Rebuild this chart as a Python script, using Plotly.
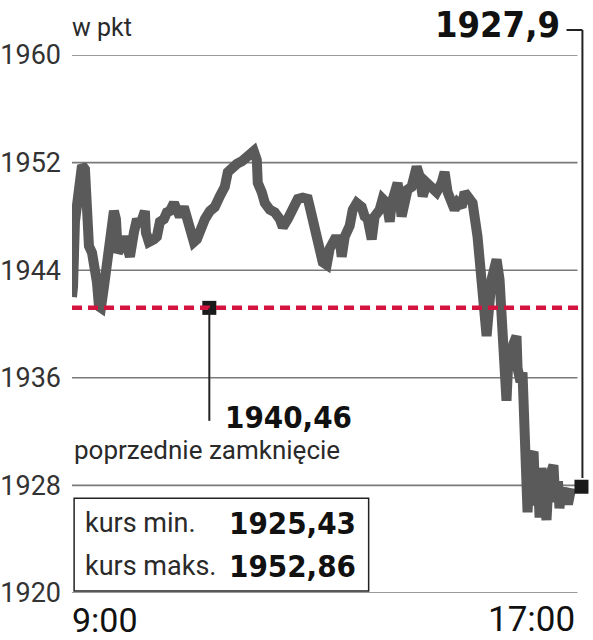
import plotly.graph_objects as go

# ---- data (minutes after 9:00, index points) ----
minutes = [0, 1, 2.8, 6.6, 9.5, 12.3, 14.2, 16.1, 19.0, 21.8, 23.7, 25.6, 27.5, 30.4, 33.2, 36.0,
           39.8, 41.7, 43.6, 47.4, 49.3, 52.2, 55.0, 58.8, 61.7, 64.5, 69.2, 70.2, 73.0, 77.8,
           80.6, 83.5, 87.3, 90.1, 93.0, 96.8, 99.6, 102.4, 106.2, 109.1, 111.9, 115.7, 118.6,
           121.4, 126.2, 130.9, 135.6, 140.4, 145.1, 148.0, 151.8, 156.5, 161.3, 166.0, 170.7,
           172.6, 175.5, 176.4, 180.2, 183.1, 187.8, 192.6, 197.3, 200.2, 204.9, 209.6, 214.4,
           219.1, 223.9, 225.8, 228.6, 232.4, 235.3, 238.1, 241.9, 244.7, 249.5,
           254.2, 256.1, 259.0, 263.7, 266.6, 270.4, 275.1, 277.9, 280.8, 284.6, 287.4, 292.2,
           295.0, 298.8, 301.7, 303.6, 306.4, 309.2, 313.0, 315.9, 318.7, 322.5, 325.4, 327.3,
           330.1, 333.0, 336.8, 341.5, 346.2, 351.0, 353.8, 356.7, 360.5, 363.3, 366.2, 370.0,
           372.8, 377.0, 380.4, 385.1, 388.9, 393.7, 398.4, 403.2, 406.0, 408.9, 410.8, 412.6,
           414.5, 418.3, 422.1, 423.1, 425.9, 427.8, 429.7, 431.6, 432.6, 434.0, 435.0, 436.4,
           438.3, 439.5, 441.1, 442.5, 444.0, 445.8, 447.7, 449.0, 450.6, 452.0, 453.4, 455.0,
           457.2, 458.5, 460.1, 461.5, 462.9, 464.5, 465.8, 467.5, 469.6, 471.0, 472.4, 474.0]
values = [1942.0, 1942.8, 1947.6, 1950.0, 1951.8, 1951.5, 1948.7, 1945.8, 1945.3, 1944.3, 1943.1,
          1941.3, 1941.2, 1942.8, 1944.3, 1946.8, 1948.4, 1947.8, 1945.3, 1945.8, 1946.5, 1945.8,
          1945.0, 1946.8, 1947.8, 1947.3, 1948.4, 1946.8, 1946.1, 1946.3, 1946.5, 1947.6, 1947.8,
          1948.3, 1948.4, 1949.0, 1948.3, 1948.0, 1948.7, 1947.8, 1947.6, 1946.1, 1946.3,
          1947.0, 1947.8, 1948.4, 1948.7, 1949.5, 1950.2, 1951.3, 1951.7, 1951.9, 1952.1, 1952.4,
          1952.7, 1952.86, 1952.2, 1950.5, 1949.8, 1949.0, 1948.5, 1948.3, 1947.8, 1947.2, 1947.8,
          1948.7, 1949.3, 1949.4, 1949.3, 1948.7, 1947.8, 1947.0, 1945.6, 1944.6, 1944.4, 1945.6,
          1946.3,
          1946.3, 1945.0, 1946.5, 1947.3, 1948.5, 1949.0, 1948.7, 1948.0, 1947.8, 1946.3, 1948.0,
          1948.5, 1949.3, 1949.0, 1947.6, 1949.0, 1949.8, 1950.5, 1948.0, 1949.3, 1950.0, 1950.2,
          1951.0, 1951.7, 1951.0, 1949.5, 1950.5, 1950.2, 1949.8, 1950.5, 1951.3, 1949.8, 1949.0,
          1948.5, 1949.0, 1948.7, 1949.8, 1949.3, 1949.0, 1946.5, 1943.1, 1939.1, 1943.3, 1944.8,
          1943.3, 1939.1, 1936.7, 1934.3, 1937.6, 1938.7, 1939.1, 1936.7, 1935.7, 1936.4, 1933.0,
          1929.3, 1926.0, 1928.5, 1926.5, 1930.2, 1930.5, 1928.0, 1926.8, 1928.8, 1925.6, 1929.3,
          1926.8, 1928.0, 1925.43, 1927.5, 1927.0, 1929.0, 1929.5, 1927.5, 1926.8, 1928.3, 1926.3,
          1927.5, 1927.8, 1926.9, 1927.3, 1926.6, 1927.2, 1927.8]

y_ticks = [1920, 1928, 1936, 1944, 1952, 1960]
x_labels = ["9:00", "17:00"]
session_end = 480

last_value = 1927.9
last_time = 483.8
last_label = "1927,9"
prev_close_label = "1940,46"
prev_close_level = 1941.2
prev_close_time = 130.4
kurs_min = "1925,43"
kurs_max = "1952,86"

RED = "#d3143f"
LINE = "#5a5a5a"
TXT = "#2a2a2a"
BOLD = "DejaVu Sans Condensed, Liberation Sans Narrow, sans-serif"
REG = "Roboto, Liberation Sans, sans-serif"

fig = go.Figure()

# gridlines
for v in y_ticks:
    fig.add_shape(type="line", xref="x", yref="y", x0=0, x1=session_end, y0=v, y1=v,
                  line=dict(color="#7a7a7a", width=1.6), layer="below")

fig.add_trace(go.Scatter(x=minutes, y=values, mode="lines", cliponaxis=False,
                         line=dict(color=LINE, width=10), hoverinfo="skip"))

# previous close dashed line
fig.add_shape(type="line", xref="x", yref="y", x0=0, x1=482,
              y0=prev_close_level, y1=prev_close_level,
              line=dict(color=RED, width=4.5, dash="10px,6px"))

# markers
fig.add_trace(go.Scatter(x=[prev_close_time, last_time], y=[prev_close_level, last_value],
                         mode="markers", cliponaxis=False,
                         marker=dict(symbol="square", size=14, color="#1a1a1a"),
                         hoverinfo="skip"))

# connector under previous close marker
fig.add_shape(type="line", xref="x", yref="y", x0=prev_close_time, x1=prev_close_time,
              y0=prev_close_level, y1=1932.8, line=dict(color="#222", width=2))

# connector from last label to last marker
fig.add_shape(type="line", xref="x", yref="paper", x0=484.7, x1=484.7,
              y0=1.0465, y1=0.2138, line=dict(color="#222", width=2))
fig.add_shape(type="line", xref="x", yref="paper", x0=469.6, x1=484.7,
              y0=1.0465, y1=1.0465, line=dict(color="#222", width=2))

# min/max box
fig.add_shape(type="rect", xref="x", yref="y", x0=2, x1=281.7, y0=1920.15, y1=1927.04,
              line=dict(color="#222", width=1.5), fillcolor="white", layer="above")

ann = []
ann.append(dict(text="w pkt", xref="paper", yref="paper", x=-0.004, y=1.052, xanchor="left",
                yanchor="middle", showarrow=False, font=dict(family=REG, size=25, color=TXT)))
ann.append(dict(text=f"<b>{last_label}</b>", xref="x", yref="paper", x=465.7, y=1.0576,
                xanchor="right", yanchor="middle", showarrow=False,
                font=dict(family=BOLD, size=36, color="#111")))
ann.append(dict(text=f"<b>{prev_close_label}</b>", xref="x", yref="y", x=267.5, y=1933.1,
                xanchor="right", yanchor="middle", showarrow=False,
                font=dict(family=BOLD, size=31, color="#111")))
ann.append(dict(text="poprzednie zamknięcie", xref="x", yref="y", x=0, y=1930.6,
                xanchor="left", yanchor="middle", showarrow=False,
                font=dict(family=REG, size=26, color=TXT)))
ann.append(dict(text="kurs min.", xref="x", yref="y", x=10.4, y=1925.2,
                xanchor="left", yanchor="middle", showarrow=False,
                font=dict(family=REG, size=27, color=TXT)))
ann.append(dict(text="kurs maks.", xref="x", yref="y", x=10.4, y=1922.0,
                xanchor="left", yanchor="middle", showarrow=False,
                font=dict(family=REG, size=27, color=TXT)))
ann.append(dict(text=f"<b>{kurs_min}</b>", xref="x", yref="y", x=271.2, y=1925.2,
                xanchor="right", yanchor="middle", showarrow=False,
                font=dict(family=BOLD, size=31, color="#111")))
ann.append(dict(text=f"<b>{kurs_max}</b>", xref="x", yref="y", x=271.2, y=1922.0,
                xanchor="right", yanchor="middle", showarrow=False,
                font=dict(family=BOLD, size=31, color="#111")))
ann.append(dict(text=x_labels[0], xref="paper", yref="paper", x=-0.004,
                y=-0.050, xanchor="left", yanchor="middle", showarrow=False,
                font=dict(family=REG, size=34, color="#111")))
ann.append(dict(text=x_labels[1], xref="x", yref="paper", x=session_end,
                y=-0.050, xanchor="right", yanchor="middle", showarrow=False,
                font=dict(family=REG, size=35, color="#111")))

fig.update_layout(
    width=593, height=640,
    margin=dict(l=72, r=4.5, t=55, b=47, autoexpand=False),
    paper_bgcolor="white", plot_bgcolor="white",
    showlegend=False,
    annotations=ann,
    xaxis=dict(range=[0, 490], showgrid=False, zeroline=False, showline=False,
               showticklabels=False, ticks="", automargin=False),
    yaxis=dict(range=[1920, 1960], tickvals=y_ticks, ticktext=[str(v) for v in y_ticks],
               showgrid=False, zeroline=False, automargin=False,
               showline=False, ticks="", ticklabelstandoff=10,
               tickfont=dict(family=REG, size=27, color="#333")),
)

fig.write_html("out.html", config={"displayModeBar": False},
               post_script="document.body.style.margin='0';document.body.style.overflow='hidden';")
